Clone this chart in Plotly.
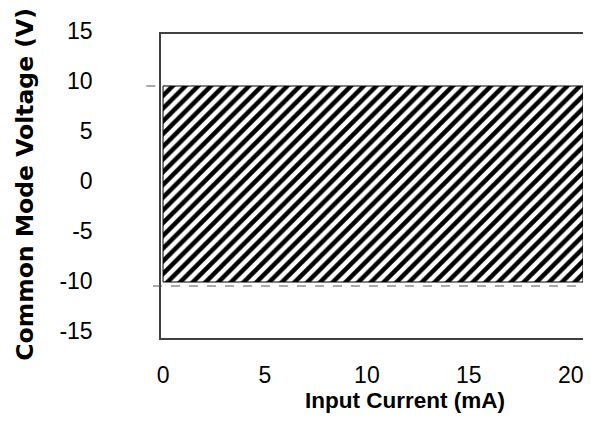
import plotly.graph_objects as go

# Data
current_range = [0, 20.6]          # mA, extent of the hatched region
voltage_max = 10.0                 # V, top of common-mode range
voltage_min = -9.6                 # V, bottom of common-mode range
dash_levels = [10, -10]            # V, dashed reference lines
x_ticks = [0, 5, 10, 15, 20]
y_ticks = [15, 10, 5, 0, -5, -10, -15]
y_tick_text = ["15", "10", "5", "0", "-5", "-10", "-15"]

fig = go.Figure()
fig.add_trace(go.Bar(
    x=[(current_range[0] + current_range[1]) / 2],
    width=[current_range[1] - current_range[0]],
    base=[voltage_min],
    y=[voltage_max - voltage_min],
    marker=dict(color="white",
                line=dict(color="black", width=1),
                pattern=dict(shape="/", fgcolor="black", bgcolor="white",
                             fgopacity=1, size=9, solidity=0.5)),
    hoverinfo="skip", showlegend=False,
))

# dashed reference lines
fig.add_shape(type="line", xref="paper", yref="y", x0=-0.035, x1=0.01,
              y0=dash_levels[0], y1=dash_levels[0],
              line=dict(color="#555", width=1, dash="dash"), layer="below")
fig.add_shape(type="line", xref="paper", yref="y", x0=-0.019, x1=1,
              y0=dash_levels[1], y1=dash_levels[1],
              line=dict(color="#555", width=1, dash="dash"), layer="above")

font_family = "Liberation Sans, Arial, sans-serif"
# page body has an 8px margin: shrink the figure so the plot box lands where intended
fig.update_layout(
    width=583, height=413,
    margin=dict(l=153, r=6, t=26, b=83),
    paper_bgcolor="white", plot_bgcolor="white",
    font=dict(family=font_family, size=23, color="black"),
    showlegend=False,
    xaxis=dict(range=[-0.1, 20.6], tickvals=x_ticks, showgrid=False, zeroline=False,
               showline=True, mirror=True, linecolor="#404040", linewidth=1.5,
               ticks="", ticklabelstandoff=16, tickfont=dict(size=23)),
    yaxis=dict(range=[-15.2, 15.2], tickvals=y_ticks, ticktext=y_tick_text,
               showgrid=False, zeroline=False,
               showline=True, mirror=True, linecolor="#404040", linewidth=1.5,
               ticks="", ticklabelstandoff=62, ticklabelshift=-5, tickfont=dict(size=23)),
    annotations=[
        dict(text="<b>Input Current (mA)</b>", xref="paper", yref="paper",
             x=0.578, y=-0.204, xanchor="center", yanchor="middle", showarrow=False,
             font=dict(size=22.5)),
        dict(text="<b>Common Mode Voltage (V)</b>", xref="paper", yref="paper",
             x=-0.321, y=0.506, xanchor="center", yanchor="middle", showarrow=False,
             textangle=-90, font=dict(size=23.5, family="DejaVu Sans, sans-serif")),
    ],
)

fig.write_html("out.html")
